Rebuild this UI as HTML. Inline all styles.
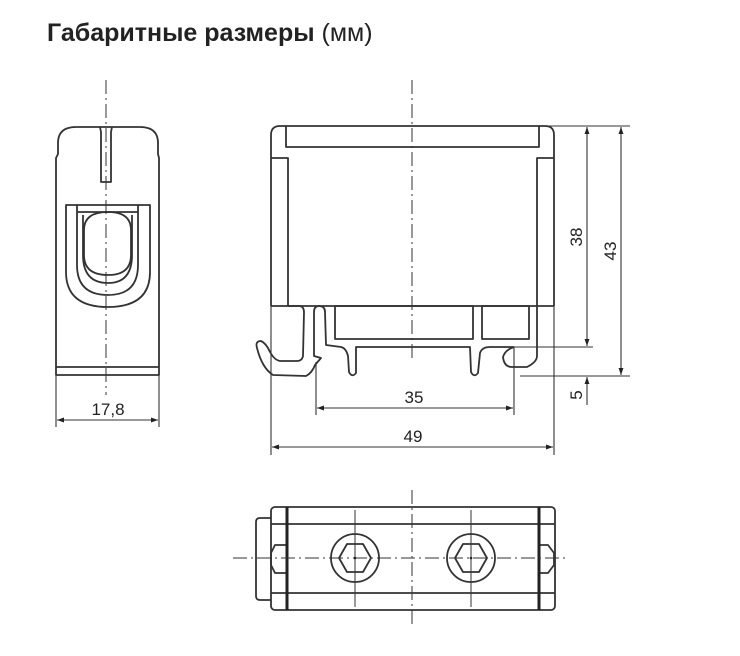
<!DOCTYPE html>
<html><head><meta charset="utf-8"><style>
html,body{margin:0;padding:0;background:#fff;}
svg{display:block;}
text{font-family:"Liberation Sans","DejaVu Sans",sans-serif;fill:#222;}
</style></head><body>
<svg width="740" height="656" viewBox="0 0 740 656" xmlns="http://www.w3.org/2000/svg">
<defs>
<marker id="a" viewBox="0 0 10 10" refX="10" refY="5" markerWidth="10" markerHeight="7" orient="auto-start-reverse" markerUnits="userSpaceOnUse"><path d="M0,1.5 L10,5 L0,8.5 z" fill="#222"/></marker>
</defs>
<text x="47" y="41" font-size="25" font-weight="bold">Габаритные размеры <tspan font-weight="normal">(мм)</tspan></text>

<g fill="none" stroke="#333" stroke-width="1.8" stroke-linejoin="round">
<!-- side view -->
<path d="M56,375 L56,158 L58,154 L58,143 Q58,127 76,127 L140,127 Q158,127 158,143 L158,154 L159,158 L159,375 Z"/>
<line x1="56" y1="367" x2="159" y2="367"/>
<path d="M100,127 L101,132 L101,182 L111,182 L111,132 L112,127"/>
<path d="M66,205 L150,205 L150,272 Q150,307 108,307 Q66,307 66,272 Z"/>
<path d="M77,205 L77,265 Q77,295 108,295 Q138,295 138,265 L138,205"/>
<path d="M77,212 L138,212"/>
<path d="M83,215 L83,255 Q83,283 108,283 Q132,283 132,255 L132,215"/>
<path d="M84,230 Q84,212 108,212 Q131,212 131,230 L131,255 Q131,275 108,275 Q84,275 84,255 Z"/>

<!-- front view -->
<path d="M271,306 L271,135 Q271,126 280,126 L545,126 Q554,126 554,135 L554,306"/>
<path d="M286,126 L286,147 L539,147 L539,126"/>
<path d="M271,158 L288,158 L288,306 M554,158 L537,158 L537,306"/>
<line x1="271" y1="306" x2="554" y2="306"/>
<rect x="335" y="306" width="138" height="33"/>
<rect x="482" y="306" width="47" height="33"/>
<path d="M288,306 L300,306 Q304,307 304,312 L303,356 Q302,361 297,361 L281,361 Q275,361 270,352 Q266,343 261,341 Q255,341 257,348 Q262,368 273,375 L306,376 Q312,373 315,365 L321,358 L314,356 L314,312 Q314,306 319,306 Q325,306 325,312 L326,345 L341,347 Q346,348 348,356 L349,372 Q352,378 356,373 L356,347 L470,347 L471,372 Q474,378 478,373 L480,353 Q482,347 490,347 L514,347"/>
<path d="M514,347 Q505,350 503,357 Q504,367 512,367 L527,367 Q537,362 537,356 L537,306"/>

<!-- top view -->
<rect x="271" y="507" width="284" height="103" rx="4"/>
<line x1="271" y1="524" x2="555" y2="524"/>
<line x1="271" y1="593" x2="555" y2="593"/>
<path d="M271,518 L260,518 Q256,518 256,522 L256,596 Q256,600 260,600 L271,600"/>
<path d="M287,545 L275,545 L271,553 L271,565 L275,573 L287,573"/>
<path d="M539,545 L548,545 L554,553 L554,565 L548,573 L539,573"/>
<circle cx="355" cy="558" r="24"/>
<circle cx="471" cy="558" r="24"/>
<path d="M347,544 L363,544 L371,558 L363,572 L347,572 L339,558 Z"/>
<path d="M463,544 L479,544 L487,558 L479,572 L463,572 L455,558 Z"/>
</g>
<g stroke="#222" stroke-width="3">
<line x1="287" y1="507" x2="287" y2="610"/>
<line x1="539" y1="507" x2="539" y2="610"/>
</g>

<!-- center lines -->
<g stroke="#333" stroke-width="1" fill="none" stroke-dasharray="14,4,2,4">
<line x1="106" y1="80" x2="106" y2="395"/>
<line x1="412" y1="80" x2="412" y2="360"/>
<line x1="412" y1="490" x2="412" y2="628"/>
<line x1="233" y1="558" x2="566" y2="558"/>
<line x1="355" y1="510" x2="355" y2="607" stroke-dasharray="none"/>
<line x1="471" y1="510" x2="471" y2="607" stroke-dasharray="none"/>
</g>
<circle cx="355" cy="558" r="1.3" fill="#222"/>
<circle cx="471" cy="558" r="1.3" fill="#222"/>

<!-- dimension lines -->
<g stroke="#333" stroke-width="1.1" fill="none">
<line x1="56" y1="375" x2="56" y2="427"/>
<line x1="159" y1="375" x2="159" y2="427"/>
<line x1="57" y1="420" x2="158" y2="420" marker-start="url(#a)" marker-end="url(#a)"/>
<line x1="271" y1="306" x2="271" y2="455"/>
<line x1="554" y1="306" x2="554" y2="455"/>
<line x1="316" y1="362" x2="316" y2="415"/>
<line x1="514" y1="347" x2="514" y2="415"/>
<line x1="317" y1="408" x2="513" y2="408" marker-start="url(#a)" marker-end="url(#a)"/>
<line x1="272" y1="447" x2="553" y2="447" marker-start="url(#a)" marker-end="url(#a)"/>
<line x1="540" y1="126" x2="630" y2="126"/>
<line x1="514" y1="347" x2="593" y2="347"/>
<line x1="520" y1="376" x2="630" y2="376"/>
<line x1="587" y1="127" x2="587" y2="346" marker-start="url(#a)" marker-end="url(#a)"/>
<line x1="621" y1="127" x2="621" y2="375" marker-start="url(#a)" marker-end="url(#a)"/>
<line x1="587" y1="405" x2="587" y2="377" marker-end="url(#a)"/>
</g>
<text x="108" y="415" font-size="17" text-anchor="middle">17,8</text>
<text x="414" y="403" font-size="17" text-anchor="middle">35</text>
<text x="413" y="442" font-size="17" text-anchor="middle">49</text>
<text transform="translate(582,237) rotate(-90)" font-size="17" text-anchor="middle">38</text>
<text transform="translate(616,251) rotate(-90)" font-size="17" text-anchor="middle">43</text>
<text transform="translate(582,395) rotate(-90)" font-size="17" text-anchor="middle">5</text>
</svg>
</body></html>
